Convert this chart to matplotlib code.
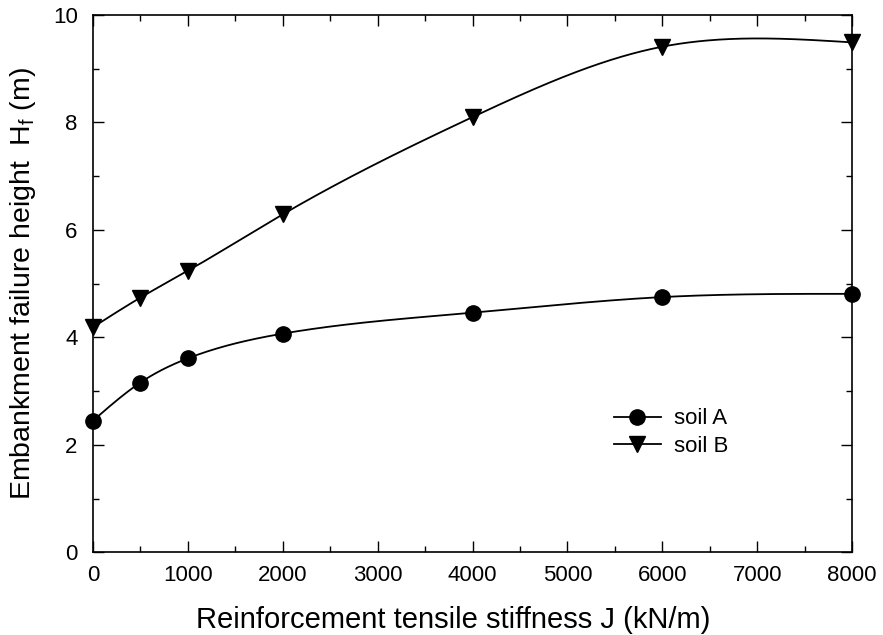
#!/usr/bin/python3
# Embankment failure height vs reinforcement stiffness for two soils

import numpy as np
import matplotlib
matplotlib.use("Agg")
import matplotlib.pyplot as plt
from matplotlib.ticker import MultipleLocator

plt.rcParams['font.family'] = ['Liberation Sans', 'DejaVu Sans']
plt.rcParams['mathtext.fontset'] = 'custom'
plt.rcParams['mathtext.rm'] = 'Liberation Sans'

# Data
stiffness = [0, 500, 1000, 2000, 4000, 6000, 8000]
soilA = [2.45, 3.16, 3.61, 4.07, 4.46, 4.75, 4.81]
soilB = [4.19, 4.74, 5.24, 6.29, 8.10, 9.41, 9.49]
labels = ["soil A", "soil B"]


def natural_spline(x, y, xs):
    """ Natural cubic spline through (x, y), evaluated at xs."""
    x = np.asarray(x, float)
    y = np.asarray(y, float)
    n = len(x)
    h = np.diff(x)
    A = np.zeros((n, n))
    r = np.zeros(n)
    A[0, 0] = A[-1, -1] = 1.0
    for i in range(1, n - 1):
        A[i, i - 1] = h[i - 1]
        A[i, i] = 2 * (h[i - 1] + h[i])
        A[i, i + 1] = h[i]
        r[i] = 6 * ((y[i + 1] - y[i]) / h[i] - (y[i] - y[i - 1]) / h[i - 1])
    M = np.linalg.solve(A, r)
    k = np.clip(np.searchsorted(x, xs) - 1, 0, n - 2)
    t0 = x[k + 1] - xs
    t1 = xs - x[k]
    hk = h[k]
    return (M[k] * t0**3 / (6 * hk) + M[k + 1] * t1**3 / (6 * hk)
            + (y[k] / hk - M[k] * hk / 6) * t0
            + (y[k + 1] / hk - M[k + 1] * hk / 6) * t1)


fig = plt.figure(figsize=(8.83, 6.35), dpi=100)
ax = fig.add_axes([0.1053, 0.1302, 0.8597, 0.8462])

xs = np.linspace(stiffness[0], stiffness[-1], 400)
for ys, mk, lab in [(soilA, 'o', labels[0]), (soilB, 'v', labels[1])]:
    ax.plot(xs, natural_spline(stiffness, ys, xs), 'k-', lw=1.3)
    ax.plot(stiffness, ys, 'k', marker=mk, ls='none', ms=11, clip_on=False)
    ax.plot([], [], 'k-', marker=mk, ms=11, lw=1.3, label=lab)

ax.set_xlim(0, 8000)
ax.set_ylim(0, 10)
ax.xaxis.set_major_locator(MultipleLocator(1000))
ax.xaxis.set_minor_locator(MultipleLocator(500))
ax.yaxis.set_major_locator(MultipleLocator(2))
ax.yaxis.set_minor_locator(MultipleLocator(1))
ax.tick_params(which='both', direction='in', top=True, right=True,
               labelsize=16, width=1.0)
ax.tick_params(which='major', length=8, pad=9)
ax.tick_params(axis='y', which='major', pad=11)
ax.tick_params(which='minor', length=4)
for s in ax.spines.values():
    s.set_linewidth(1.2)

ax.set_xlabel('Reinforcement tensile stiffness J (kN/m)', fontsize=21)
ax.set_ylabel(r'Embankment failure height  H$_\mathregular{f}$ (m)', fontsize=20.5, labelpad=11)
ax.xaxis.set_label_coords(0.475, -0.1)

ax.legend(loc='upper left', bbox_to_anchor=(0.66, 0.305), frameon=False,
          fontsize=16, handlelength=2.1, handletextpad=0.6, labelspacing=0.3)

plt.savefig("out.png", dpi=100)
